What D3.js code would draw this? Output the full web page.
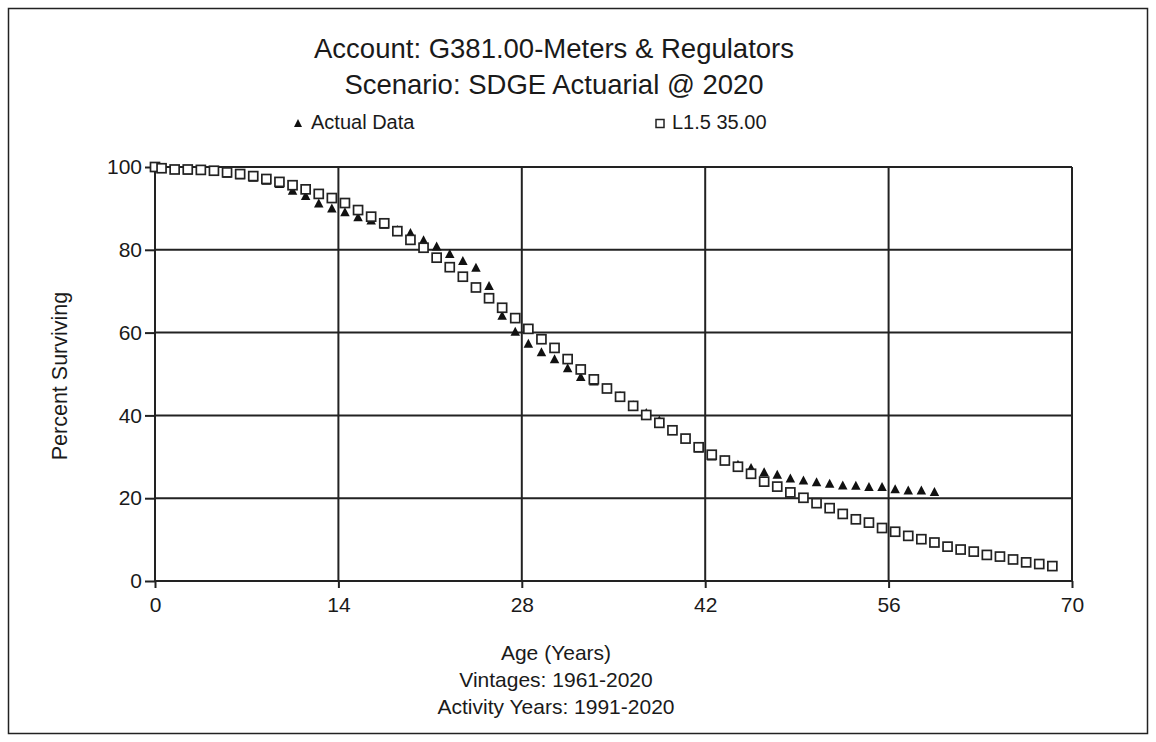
<!DOCTYPE html>
<html>
<head>
<meta charset="utf-8">
<script src="https://cdn.jsdelivr.net/npm/d3@7"></script>
<style>
  html, body { margin: 0; padding: 0; background: #fff; }
  svg { display: block; }
  text { font-family: Arial, "Liberation Sans", sans-serif; fill: #1a1a1a; }
</style>
</head>
<body>
<svg id="chart" width="1156" height="742"></svg>
<script>
// Observed survivor curve (Actual Data) and fitted Iowa curve (L1.5, 35-year life)
const actualAges = [0, 0.5, 1.5, 2.5, 3.5, 4.5, 5.5, 6.5, 7.5, 8.5, 9.5,
  10.5, 11.5, 12.5, 13.5, 14.5, 15.5, 16.5, 17.5, 18.5, 19.5,
  20.5, 21.5, 22.5, 23.5, 24.5, 25.5, 26.5, 27.5, 28.5, 29.5,
  30.5, 31.5, 32.5, 33.5, 34.5, 35.5, 36.5, 37.5, 38.5, 39.5,
  40.5, 41.5, 42.5, 43.5, 44.5, 45.5, 46.5, 47.5, 48.5, 49.5,
  50.5, 51.5, 52.5, 53.5, 54.5, 55.5, 56.5, 57.5, 58.5, 59.5];
const actualPct = [100, 99.7, 99.4, 99.3, 99.2, 99.0, 98.5, 98.1, 97.5, 96.8, 96.0,
  94.4, 93.1, 91.3, 90.1, 89.2, 88.0, 87.2, 86.2, 84.9, 84.2,
  82.4, 80.9, 79.1, 77.4, 75.8, 71.4, 64.2, 60.3, 57.4, 55.4,
  53.7, 51.5, 49.4, 48.3, 46.6, 44.8, 42.6, 40.7, 38.9, 36.6,
  34.5, 32.1, 30.2, 29.3, 28.2, 27.4, 26.4, 25.8, 24.9, 24.4,
  24.0, 23.6, 23.2, 23.1, 22.8, 22.8, 22.3, 22.0, 22.0, 21.6];

const curveAges = [0, 0.5, 1.5, 2.5, 3.5, 4.5, 5.5, 6.5, 7.5, 8.5, 9.5,
  10.5, 11.5, 12.5, 13.5, 14.5, 15.5, 16.5, 17.5, 18.5, 19.5,
  20.5, 21.5, 22.5, 23.5, 24.5, 25.5, 26.5, 27.5, 28.5, 29.5,
  30.5, 31.5, 32.5, 33.5, 34.5, 35.5, 36.5, 37.5, 38.5, 39.5,
  40.5, 41.5, 42.5, 43.5, 44.5, 45.5, 46.5, 47.5, 48.5, 49.5,
  50.5, 51.5, 52.5, 53.5, 54.5, 55.5, 56.5, 57.5, 58.5, 59.5,
  60.5, 61.5, 62.5, 63.5, 64.5, 65.5, 66.5, 67.5, 68.5];
const curvePct = [100, 99.7, 99.4, 99.4, 99.3, 99.1, 98.7, 98.3, 97.8, 97.1, 96.4,
  95.6, 94.6, 93.5, 92.5, 91.3, 89.6, 88.0, 86.4, 84.5, 82.4,
  80.5, 78.1, 75.8, 73.5, 70.9, 68.3, 66.0, 63.5, 60.9, 58.4,
  56.3, 53.6, 51.1, 48.7, 46.5, 44.5, 42.3, 40.1, 38.2, 36.4,
  34.4, 32.3, 30.5, 29.1, 27.6, 25.9, 24.0, 22.8, 21.4, 20.1,
  18.8, 17.6, 16.2, 14.9, 14.1, 12.8, 11.9, 10.9, 10.1, 9.3,
  8.3, 7.6, 7.1, 6.3, 5.9, 5.2, 4.5, 4.1, 3.6];

const xTicks = [0, 14, 28, 42, 56, 70];
const yTicks = [0, 20, 40, 60, 80, 100];

const titleLines = ["Account: G381.00-Meters & Regulators", "Scenario: SDGE Actuarial @ 2020"];
const legendLabels = ["Actual Data", "L1.5 35.00"];
const xTitleLines = ["Age (Years)", "Vintages: 1961-2020", "Activity Years: 1991-2020"];
const yTitle = "Percent Surviving";

const svg = d3.select("#chart");
const W = 1156, H = 742;
const plot = { left: 155, right: 1072, top: 167, bottom: 581 };
const ink = "#222";
const font = "Arial, 'Liberation Sans', sans-serif";

// filled triangle marker centred on the data point
const tri = (w, h) => `M0,${-h / 2}L${w / 2},${h / 2}L${-w / 2},${h / 2}Z`;

// outer frame
svg.append("rect")
  .attr("x", 8.5).attr("y", 8.5)
  .attr("width", W - 17).attr("height", H - 17)
  .attr("fill", "none").attr("stroke", ink).attr("stroke-width", 1.5);

const x = d3.scaleLinear().domain([0, 70]).range([plot.left, plot.right]);
const y = d3.scaleLinear().domain([0, 100]).range([plot.bottom, plot.top]);

// titles
svg.selectAll("text.title").data(titleLines).join("text")
  .attr("class", "title")
  .attr("x", 554).attr("y", (d, i) => 58 + i * 36)
  .attr("text-anchor", "middle")
  .attr("font-size", 27.5)
  .text(d => d);

// legend
const leg = svg.append("g");
leg.append("path")
  .attr("d", tri(8, 8))
  .attr("transform", "translate(298,123)")
  .attr("fill", "#111");
leg.append("text").attr("x", 311).attr("y", 129).attr("font-size", 20).text(legendLabels[0]);
leg.append("rect")
  .attr("x", 656).attr("y", 119.5).attr("width", 8).attr("height", 8)
  .attr("fill", "#fff").attr("stroke", ink).attr("stroke-width", 1.5);
leg.append("text").attr("x", 672).attr("y", 129).attr("font-size", 20).text(legendLabels[1]);

// grid
const g = svg.append("g");
g.selectAll("line.hg").data(yTicks).join("line")
  .attr("class", "hg")
  .attr("x1", plot.left).attr("x2", plot.right)
  .attr("y1", d => y(d)).attr("y2", d => y(d))
  .attr("stroke", ink).attr("stroke-width", 2);
g.selectAll("line.vg").data(xTicks).join("line")
  .attr("class", "vg")
  .attr("y1", plot.top).attr("y2", plot.bottom)
  .attr("x1", d => x(d)).attr("x2", d => x(d))
  .attr("stroke", ink).attr("stroke-width", 2);

// axes
const xAxis = d3.axisBottom(x).tickValues(xTicks).tickSize(7).tickPadding(9);
const yAxis = d3.axisLeft(y).tickValues(yTicks).tickSize(10).tickPadding(3);
const gx = svg.append("g").attr("transform", `translate(0,${plot.bottom})`).call(xAxis);
const gy = svg.append("g").attr("transform", `translate(${plot.left},0)`).call(yAxis);
[gx, gy].forEach(a => {
  a.select(".domain").remove();
  a.selectAll(".tick line").attr("stroke", ink).attr("stroke-width", 2);
  a.selectAll(".tick text").attr("font-size", 21).attr("fill", "#1a1a1a")
    .attr("font-family", font);
});

// axis titles
svg.selectAll("text.xt").data(xTitleLines).join("text")
  .attr("class", "xt")
  .attr("x", 556).attr("y", (d, i) => 660 + i * 27)
  .attr("text-anchor", "middle").attr("font-size", 21)
  .text(d => d);
svg.append("text")
  .attr("transform", "translate(67,376) rotate(-90)")
  .attr("text-anchor", "middle").attr("font-size", 21.5)
  .text(yTitle);

// markers: actual data (filled triangles) under fitted curve (open squares)
const actual = actualAges.map((a, i) => ({ age: a, pct: actualPct[i] }));
const curve = curveAges.map((a, i) => ({ age: a, pct: curvePct[i] }));

svg.append("g").selectAll("path").data(actual).join("path")
  .attr("d", tri(9.5, 9))
  .attr("transform", d => `translate(${x(d.age)},${y(d.pct)})`)
  .attr("fill", "#111");

svg.append("g").selectAll("rect").data(curve).join("rect")
  .attr("x", d => x(d.age) - 4.5).attr("y", d => y(d.pct) - 4.5)
  .attr("width", 9).attr("height", 9)
  .attr("fill", "#fff").attr("stroke", ink).attr("stroke-width", 1.7);
</script>
</body>
</html>
